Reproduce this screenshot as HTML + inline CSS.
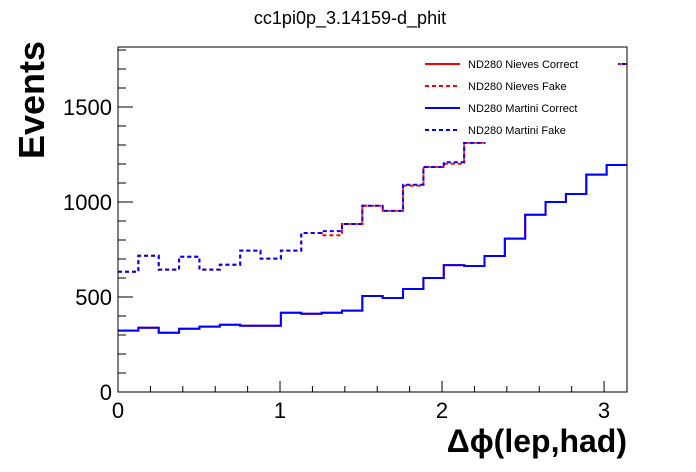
<!DOCTYPE html>
<html><head><meta charset="utf-8"><style>
body{margin:0;background:#fff}
svg{display:block;font-family:"Liberation Sans",Arial,sans-serif}
</style></head><body>
<svg id="c" width="696" height="472" xmlns="http://www.w3.org/2000/svg">
<rect width="696" height="472" fill="#fff"/>
<text x="350" y="24" font-size="18" text-anchor="middle">cc1pi0p_3.14159-d_phit</text>
<text transform="translate(44,100) rotate(-90)" font-size="36" font-weight="bold" text-anchor="middle">Events</text>
<text x="627" y="452" font-size="32" font-weight="bold" text-anchor="end">Δϕ(lep,had)</text>
<g id="series"></g>
<g id="axes"></g>
<g id="legend"></g>
</svg>
<script>
const binEdgesMin = 0, binEdgesMax = 3.14159, nBins = 25;
const martiniCorrect = [323,338,312,333,344,354,349,349,417,412,417,428,505,495,542,600,668,663,716,807,933,1000,1042,1144,1195];
const nievesCorrect = [323,338,312,333,344,354,349,349,417,412,417,428,505,495,542,600,668,663,716,807,933,1000,1042,1144,1195];
const martiniFake = [633,717,644,712,644,670,744,702,744,837,847,884,980,953,1091,1184,1209,1311,1390,1460,1530,1590,1640,1690,1726];
const nievesFake = [633,717,644,712,644,670,744,702,744,837,825,884,980,953,1086,1184,1201,1311,1390,1460,1530,1590,1640,1690,1726];
const yTicks = [0,500,1000,1500];
const xTicks = [0,1,2,3];
const legendLabels = ["ND280 Nieves Correct","ND280 Nieves Fake","ND280 Martini Correct","ND280 Martini Fake"];

const X0=118,X1=627,Y0=392,Y1=47,YMAX=(392-47)/0.19;
const xs=v=>X0+(v-binEdgesMin)/(binEdgesMax-binEdgesMin)*(X1-X0);
const ys=v=>Y0-v/YMAX*(Y0-Y1);
const NS="http://www.w3.org/2000/svg";
function mk(tag,attrs,parent){const e=document.createElementNS(NS,tag);for(const k in attrs)e.setAttribute(k,attrs[k]);parent.appendChild(e);return e;}
const S=document.getElementById('series');
function hist(vals,color,dash,name){
  const bw=(binEdgesMax-binEdgesMin)/nBins;
  let d="M"+xs(0)+","+ys(vals[0]);
  vals.forEach((v,i)=>{const a=xs(binEdgesMin+i*bw),b=xs(binEdgesMin+(i+1)*bw);d+=" L"+a+","+ys(v)+" L"+b+","+ys(v);});
  const p=mk('path',{d:d,fill:'none',stroke:color,'stroke-width':2,'stroke-dasharray':dash?'4,3':'none'},S);
  
  
}
hist(nievesCorrect,'#f00',false,'nieves-correct-line');
hist(nievesFake,'#f00',true,'nieves-fake-line');
hist(martiniCorrect,'#00f',false,'martini-correct-line');
hist(martiniFake,'#00f',true,'martini-fake-line');

const A=document.getElementById('axes');
mk('rect',{x:X0,y:Y1,width:X1-X0,height:Y0-Y1,fill:'none',stroke:'#000','stroke-width':1},A);
for(let v=0;v<=1800;v+=100){const y=ys(v);if(y<Y1)break;const maj=v%500===0;mk('line',{x1:X0,x2:X0+(maj?15:8),y1:y,y2:y,stroke:'#000'},A);}
yTicks.forEach(v=>{const t=mk('text',{x:X0-6,y:ys(v)+8,'font-size':22,'text-anchor':'end'},A);t.textContent=v;

});
for(let i=0;i<=15;i++){const v=i*0.2;const x=xs(v);const maj=i%5===0;mk('line',{x1:x,x2:x,y1:Y0,y2:Y0-(maj?11:6),stroke:'#000'},A);}
xTicks.forEach(v=>{const t=mk('text',{x:xs(v),y:418,'font-size':22,'text-anchor':'middle'},A);t.textContent=v;

});

const L=document.getElementById('legend');
const bg=mk('rect',{x:410,y:52,width:208,height:90,fill:'#fff'},L);


const lc=['#f00','#f00','#00f','#00f'],ld=[false,true,false,true];
legendLabels.forEach((s,i)=>{const y=64+i*22;
 const g=mk('g',{},L);
 
 
 mk('line',{x1:425,x2:460,y1:y,y2:y,stroke:lc[i],'stroke-width':2,'stroke-dasharray':ld[i]?'4,3':'none'},g);
 const t=mk('text',{x:468,y:y+4,'font-size':11},g);t.textContent=s;});
</script>
</body></html>
